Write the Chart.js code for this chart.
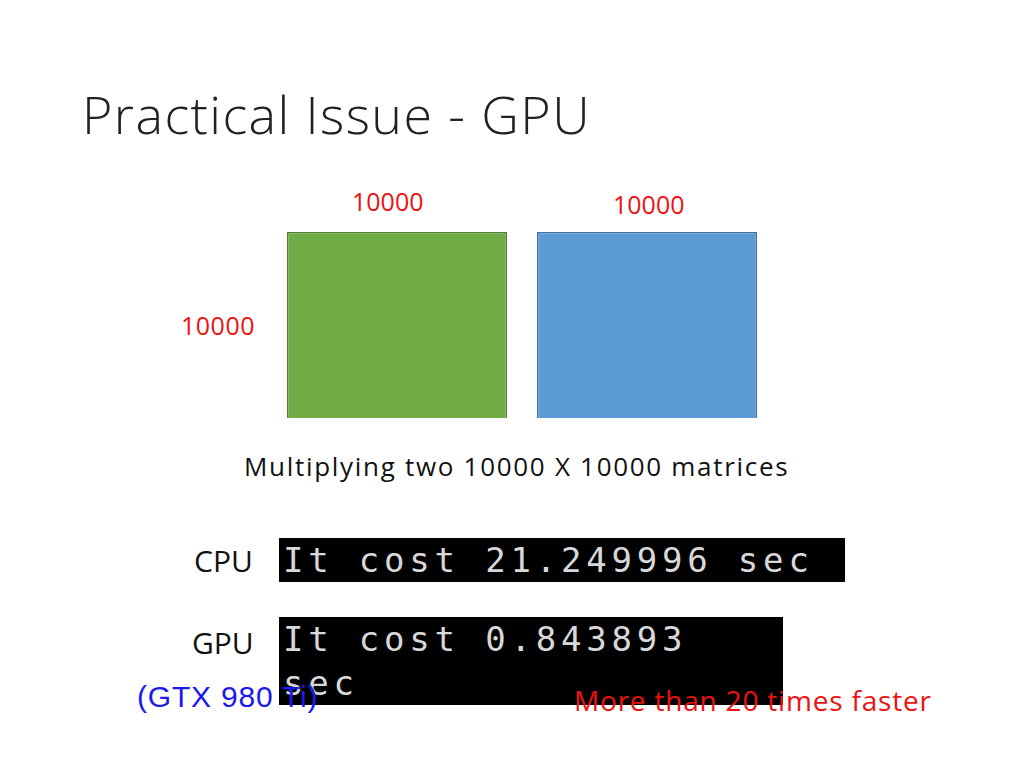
<!DOCTYPE html>
<html>
<head>
<meta charset="utf-8">
<script src="https://cdn.jsdelivr.net/npm/chart.js@4"></script>
<style>
  body { margin: 0; width: 1024px; height: 768px; background: #fff; position: relative; overflow: hidden; font-family: "Open Sans", "Noto Sans", sans-serif; }
  .t { position: absolute; white-space: nowrap; }
  .red { color: #ee1111; font-size: 25px; }
  .term { position: absolute; background: #000; color: #d8d8d8; font-family: "DejaVu Sans Mono", monospace; font-size: 34px; line-height: 44px; padding-left: 4px; letter-spacing: 4.8px; }
  #wrap { position: absolute; left: 272px; top: 232px; width: 500px; height: 186px; }
</style>
</head>
<body>
<div class="t" style="left:82px;top:78px;font-size:52px;font-weight:300;color:#222;letter-spacing:1.4px;">Practical Issue - GPU</div>
<div class="t red" id="w1" style="left:352px;top:184px;"></div>
<div class="t red" id="w2" style="left:613px;top:187px;"></div>
<div class="t red" id="h1" style="left:181px;top:308px;letter-spacing:0.5px;"></div>
<div id="wrap"><canvas id="matChart"></canvas></div>
<div class="t" id="caption" style="left:244px;top:448px;font-size:26px;color:#111;letter-spacing:1.7px;"></div>
<div class="t" style="left:194px;top:540px;font-size:30px;color:#111;">CPU</div>
<div class="term" id="cpu" style="left:279px;top:538px;width:562px;"></div>
<div class="t" style="left:192px;top:622px;font-size:30px;color:#111;">GPU</div>
<div class="term" id="gpu" style="left:279px;top:617px;width:500px;"></div>
<div class="t" style="left:137px;top:680px;font-size:30px;color:#1a1aee;font-family:'Liberation Sans',sans-serif;letter-spacing:0.8px;">(GTX 980 Ti)</div>
<div class="t red" style="left:574px;top:681px;font-size:28px;letter-spacing:0.8px;">More than 20 times faster</div>
<script>
const matrices = ['A', 'B'];
const matrixSize = [10000, 10000];
const fillColors = ['#70ad47', '#5b9bd5'];
const edgeColors = ['#507e32', '#41719c'];
const devices = ['CPU', 'GPU'];
const seconds = ['21.249996', '0.843893'];

document.getElementById('w1').textContent = matrixSize[0];
document.getElementById('w2').textContent = matrixSize[1];
document.getElementById('h1').textContent = matrixSize[0];
document.getElementById('caption').textContent =
  `Multiplying two ${matrixSize[0]} X ${matrixSize[1]} matrices`;
document.getElementById('cpu').textContent = `It cost ${seconds[0]} sec`;
document.getElementById('gpu').textContent = `It cost ${seconds[1]} sec`;

new Chart(document.getElementById('matChart'), {
  type: 'bar',
  data: {
    labels: matrices,
    datasets: [{
      data: matrixSize,
      backgroundColor: fillColors,
      borderColor: edgeColors,
      borderWidth: 1.5,
      categoryPercentage: 1,
      barPercentage: 0.88
    }]
  },
  options: {
    responsive: true,
    maintainAspectRatio: false,
    animation: false,
    layout: { padding: 0 },
    plugins: { legend: { display: false }, tooltip: { enabled: false } },
    scales: {
      x: { display: false },
      y: { display: false, min: 0, max: 10000 }
    }
  }
});
</script>
</body>
</html>
